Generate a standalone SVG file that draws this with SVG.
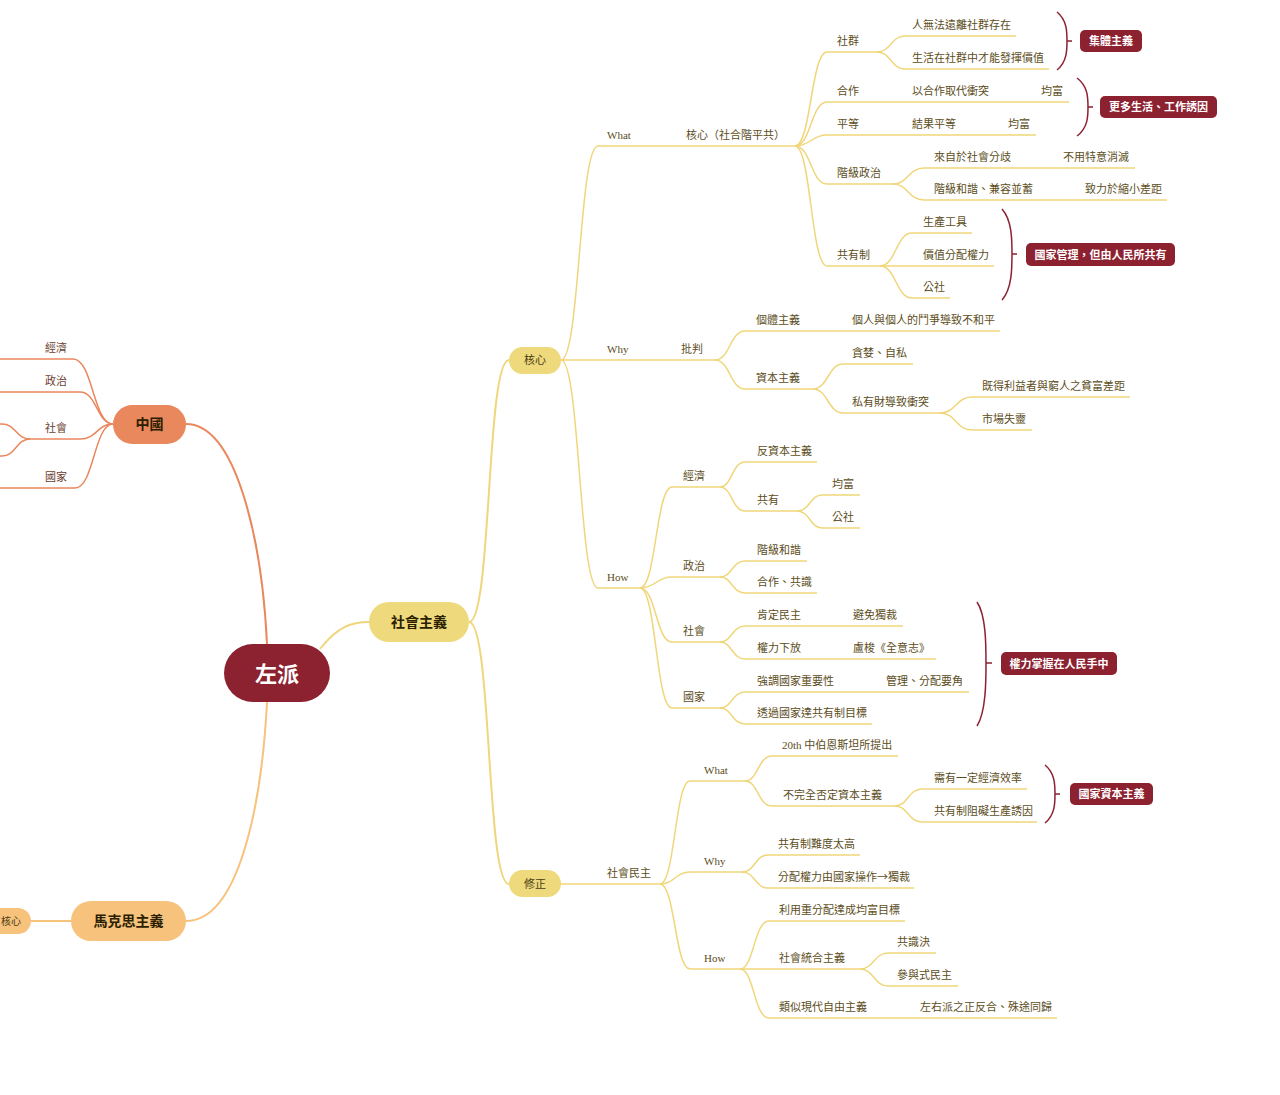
<svg xmlns="http://www.w3.org/2000/svg" width="1280" height="1095" viewBox="0 0 1280 1095">
<style>
.y{fill:none;stroke:#F0D67A;stroke-width:1.5}
.ym{fill:none;stroke:#F0D67A;stroke-width:2}
.o{fill:none;stroke:#E9875D;stroke-width:1.5}
.om{fill:none;stroke:#E9875D;stroke-width:2}
.lo{fill:none;stroke:#F6C27C;stroke-width:2}
.br{fill:none;stroke:#8C2130;stroke-width:1.5}
text{font-family:"Liberation Serif","Noto Sans CJK TC",serif}
.t{font-size:11px;fill:#5c4d22}
.to{font-size:11px;fill:#6b4030}
.tag rect{fill:#8C2130}
.tag text{font-size:11px;fill:#fff;font-weight:bold;text-anchor:middle}
.nt{font-size:14px;fill:#2a2000;text-anchor:middle;font-weight:bold}
.ns{font-size:11px;fill:#4a3d15;text-anchor:middle}
.cjk{font-family:"Noto Sans CJK TC",sans-serif}
</style>
<rect width="1280" height="1095" fill="#fff"/>
<g id="connectors">
<path class="om" d="M186,424 C236,424 262,540 267,644"/>
<path class="lo" d="M267,702 C262,800 240,921 186,921"/>
<path class="lo" d="M71,921 H31"/>
<path class="ym" d="M320,649 C338,626 352,622 369,622"/>
<path class="ym" d="M469,622 C492,622 486,360 509,360"/>
<path class="ym" d="M469,622 C492,622 486,884 509,884"/>
<path class="o" d="M113,424 C93,424 93,359 73,359 H-5"/>
<path class="o" d="M113,424 C97,424 97,392 80,392 H-5"/>
<path class="o" d="M113,424 C97,424 97,439 80,439 H30"/>
<path class="o" d="M30,439 C16,439 16,424 2,424 H-5"/>
<path class="o" d="M30,439 C16,439 16,456 2,456 H-5"/>
<path class="o" d="M113,424 C94,424 94,488 75,488 H-5"/>
<path class="y" d="M561,360 C580,360 579,146 598,146 H795"/>
<path class="y" d="M795,146 C811,146 811,52 827,52 H877"/>
<path class="y" d="M877,52 C891,52 891,36 905,36 H1016"/>
<path class="y" d="M877,52 C891,52 891,69 905,69 H1049"/>
<path class="y" d="M795,146 C811,146 811,102 827,102 H1069"/>
<path class="y" d="M795,146 C811,146 811,135 827,135 H1036"/>
<path class="y" d="M795,146 C811,146 811,184 827,184 H893"/>
<path class="y" d="M893,184 C908,184 908,168 924,168 H1135"/>
<path class="y" d="M893,184 C908,184 908,200 924,200 H1167"/>
<path class="y" d="M795,146 C811,146 811,266 827,266 H880"/>
<path class="y" d="M880,266 C896,266 896,233 912,233 H972"/>
<path class="y" d="M880,266 H994"/>
<path class="y" d="M880,266 C896,266 896,298 912,298 H950"/>
<path class="y" d="M561,360 H715"/>
<path class="y" d="M715,360 C730,360 730,331 745,331 H1000"/>
<path class="y" d="M715,360 C730,360 730,389 745,389 H813"/>
<path class="y" d="M813,389 C828,389 828,364 843,364 H913"/>
<path class="y" d="M813,389 C828,389 828,413 843,413 H940"/>
<path class="y" d="M940,413 C956,413 956,397 972,397 H1130"/>
<path class="y" d="M940,413 C956,413 956,430 972,430 H1032"/>
<path class="y" d="M561,360 C580,360 579,588 598,588 H640"/>
<path class="y" d="M640,588 C656,588 656,487 672,487 H720"/>
<path class="y" d="M720,487 C732,487 732,462 745,462 H817"/>
<path class="y" d="M720,487 C732,487 732,511 745,511 H797"/>
<path class="y" d="M797,511 C810,511 810,495 822,495 H860"/>
<path class="y" d="M797,511 C810,511 810,528 822,528 H860"/>
<path class="y" d="M640,588 C656,588 656,577 672,577 H720"/>
<path class="y" d="M720,577 C732,577 732,561 745,561 H807"/>
<path class="y" d="M720,577 C732,577 732,593 745,593 H817"/>
<path class="y" d="M640,588 C656,588 656,642 672,642 H720"/>
<path class="y" d="M720,642 C732,642 732,626 745,626 H903"/>
<path class="y" d="M720,642 C732,642 732,659 745,659 H936"/>
<path class="y" d="M640,588 C656,588 656,708 672,708 H720"/>
<path class="y" d="M720,708 C732,708 732,692 745,692 H969"/>
<path class="y" d="M720,708 C732,708 732,724 745,724 H872"/>
<path class="y" d="M561,884 H660"/>
<path class="y" d="M660,884 C675,884 675,781 690,781 H745"/>
<path class="y" d="M745,781 C758,781 758,756 772,756 H898"/>
<path class="y" d="M745,781 C758,781 758,806 772,806 H895"/>
<path class="y" d="M895,806 C908,806 908,789 922,789 H1027"/>
<path class="y" d="M895,806 C908,806 908,822 922,822 H1037"/>
<path class="y" d="M660,884 C675,884 675,872 690,872 H742"/>
<path class="y" d="M742,872 C755,872 755,855 768,855 H860"/>
<path class="y" d="M742,872 C755,872 755,888 768,888 H914"/>
<path class="y" d="M660,884 C675,884 675,969 690,969 H740"/>
<path class="y" d="M740,969 C754,969 754,921 769,921 H905"/>
<path class="y" d="M740,969 H860"/>
<path class="y" d="M860,969 C874,969 874,953 888,953 H936"/>
<path class="y" d="M860,969 C874,969 874,986 888,986 H958"/>
<path class="y" d="M740,969 C754,969 754,1018 769,1018 H1057"/>
<path class="br" d="M1057,12 C1067,20 1067,32 1067,41 C1067,50 1067,62 1057,70 M1067,41 H1072"/>
<path class="br" d="M1077,78 C1088,86 1088,98 1088,107 C1088,116 1088,128 1077,136 M1088,107 H1093"/>
<path class="br" d="M1002,209 C1012,220 1012,240 1012,254 C1012,268 1012,289 1002,300 M1012,254 H1017"/>
<path class="br" d="M977,602 C986,615 986,645 986,663 C986,681 986,712 977,726 M986,663 H992"/>
<path class="br" d="M1045,765 C1055,773 1055,785 1055,794 C1055,803 1055,815 1045,823 M1055,794 H1060"/>
</g>

<g id="root"><rect x="224" y="644" width="106" height="58" rx="29" fill="#8C2130"/><text x="277" y="682" font-size="22" font-weight="bold" fill="#fff" text-anchor="middle">左派</text></g>
<g id="china"><rect x="113" y="405" width="73" height="39" rx="19.5" fill="#E9875D"/><text class="nt" x="149.5" y="429">中國</text></g>
<g id="marx"><rect x="71" y="901" width="115" height="40" rx="20" fill="#F6C27C"/><text class="nt" x="128.5" y="926">馬克思主義</text></g>
<g id="marx-core"><rect x="-21" y="908" width="52" height="26" rx="13" fill="#F6C27C"/><text x="1" y="925" font-size="10" fill="#4a3d15">核心</text></g>
<g id="socialism"><rect x="369" y="602" width="100" height="40" rx="20" fill="#EEDA7D"/><text class="nt" x="419" y="627">社會主義</text></g>
<g id="core"><rect x="509" y="347" width="52" height="27" rx="13.5" fill="#EEDA7D"/><text class="ns" x="535" y="364">核心</text></g>
<g id="revision"><rect x="509" y="870" width="52" height="27" rx="13.5" fill="#EEDA7D"/><text class="ns" x="535" y="888">修正</text></g>

<g id="china-labels">
<g id="cn-econ"><text class="to" x="45" y="352">經濟</text></g>
<g id="cn-pol"><text class="to" x="45" y="385">政治</text></g>
<g id="cn-soc"><text class="to" x="45" y="432">社會</text></g>
<g id="cn-state"><text class="to" x="45" y="481">國家</text></g>
</g>

<g id="core-what">
<g id="w"><text class="t" x="607" y="139">What</text></g>
<g id="w-core"><text class="t" x="686" y="139">核心（社合階平共）</text></g>
<g id="w1"><text class="t" x="837" y="45">社群</text></g>
<g id="w1a"><text class="t" x="912" y="29">人無法遠離社群存在</text></g>
<g id="w1b"><text class="t" x="912" y="62">生活在社群中才能發揮價值</text></g>
<g id="w2"><text class="t" x="837" y="95">合作</text></g>
<g id="w2a"><text class="t" x="912" y="95">以合作取代衝突</text></g>
<g id="w2b"><text class="t" x="1041" y="95">均富</text></g>
<g id="w3"><text class="t" x="837" y="128">平等</text></g>
<g id="w3a"><text class="t" x="912" y="128">結果平等</text></g>
<g id="w3b"><text class="t" x="1008" y="128">均富</text></g>
<g id="w4"><text class="t" x="837" y="177">階級政治</text></g>
<g id="w4a"><text class="t" x="934" y="161">來自於社會分歧</text></g>
<g id="w4a1"><text class="t" x="1063" y="161">不用特意消滅</text></g>
<g id="w4b"><text class="t" x="934" y="193">階級和諧、兼容並蓄</text></g>
<g id="w4b1"><text class="t" x="1085" y="193">致力於縮小差距</text></g>
<g id="w5"><text class="t" x="837" y="259">共有制</text></g>
<g id="w5a"><text class="t" x="923" y="226">生產工具</text></g>
<g id="w5b"><text class="t" x="923" y="259">價值分配權力</text></g>
<g id="w5c"><text class="t" x="923" y="291">公社</text></g>
</g>

<g id="core-why">
<g id="y"><text class="t" x="607" y="353">Why</text></g>
<g id="y-crit"><text class="t" x="681" y="353">批判</text></g>
<g id="y1"><text class="t" x="756" y="324">個體主義</text></g>
<g id="y1a"><text class="t" x="852" y="324">個人與個人的鬥爭導致不和平</text></g>
<g id="y2"><text class="t" x="756" y="382">資本主義</text></g>
<g id="y2a"><text class="t" x="852" y="357">貪婪、自私</text></g>
<g id="y2b"><text class="t" x="852" y="406">私有財導致衝突</text></g>
<g id="y2b1"><text class="t" x="982" y="390">既得利益者與窮人之貧富差距</text></g>
<g id="y2b2"><text class="t" x="982" y="423">市場失靈</text></g>
</g>

<g id="core-how">
<g id="h"><text class="t" x="607" y="581">How</text></g>
<g id="h1"><text class="t" x="683" y="480">經濟</text></g>
<g id="h1a"><text class="t" x="757" y="455">反資本主義</text></g>
<g id="h1b"><text class="t" x="757" y="504">共有</text></g>
<g id="h1b1"><text class="t" x="832" y="488">均富</text></g>
<g id="h1b2"><text class="t" x="832" y="521">公社</text></g>
<g id="h2"><text class="t" x="683" y="570">政治</text></g>
<g id="h2a"><text class="t" x="757" y="554">階級和諧</text></g>
<g id="h2b"><text class="t" x="757" y="586">合作、共識</text></g>
<g id="h3"><text class="t" x="683" y="635">社會</text></g>
<g id="h3a"><text class="t" x="757" y="619">肯定民主</text></g>
<g id="h3a1"><text class="t" x="853" y="619">避免獨裁</text></g>
<g id="h3b"><text class="t" x="757" y="652">權力下放</text></g>
<g id="h3b1"><text class="t" x="853" y="652">盧梭《全意志》</text></g>
<g id="h4"><text class="t" x="683" y="701">國家</text></g>
<g id="h4a"><text class="t" x="757" y="685">強調國家重要性</text></g>
<g id="h4a1"><text class="t" x="886" y="685">管理、分配要角</text></g>
<g id="h4b"><text class="t" x="757" y="717">透過國家達共有制目標</text></g>
</g>

<g id="revision-labels">
<g id="r"><text class="t" x="607" y="877">社會民主</text></g>
<g id="rw"><text class="t" x="704" y="774">What</text></g>
<g id="rw1"><text class="t" x="782" y="749">20th 中伯恩斯坦所提出</text></g>
<g id="rw2"><text class="t" x="783" y="799">不完全否定資本主義</text></g>
<g id="rw2a"><text class="t" x="934" y="782">需有一定經濟效率</text></g>
<g id="rw2b"><text class="t" x="934" y="815">共有制阻礙生產誘因</text></g>
<g id="ry"><text class="t" x="704" y="865">Why</text></g>
<g id="ry1"><text class="t" x="778" y="848">共有制難度太高</text></g>
<g id="ry2"><text class="t" x="778" y="881">分配權力由國家操作<tspan class="cjk">→</tspan>獨裁</text></g>
<g id="rh"><text class="t" x="704" y="962">How</text></g>
<g id="rh1"><text class="t" x="779" y="914">利用重分配達成均富目標</text></g>
<g id="rh2"><text class="t" x="779" y="962">社會統合主義</text></g>
<g id="rh2a"><text class="t" x="897" y="946">共識決</text></g>
<g id="rh2b"><text class="t" x="897" y="979">參與式民主</text></g>
<g id="rh3"><text class="t" x="779" y="1011">類似現代自由主義</text></g>
<g id="rh3a"><text class="t" x="920" y="1011">左右派之正反合、殊途同歸</text></g>
</g>

<g id="tag-collectivism" class="tag"><rect x="1080" y="30" width="62" height="22" rx="5"/><text x="1111" y="45">集體主義</text></g>
<g id="tag-incentive" class="tag"><rect x="1100" y="96" width="117" height="22" rx="5"/><text x="1158.5" y="111">更多生活、工作誘因</text></g>
<g id="tag-state-own" class="tag"><rect x="1026" y="243" width="149" height="23" rx="5"/><text x="1100.5" y="258.5">國家管理，但由人民所共有</text></g>
<g id="tag-people" class="tag"><rect x="1001" y="652" width="116" height="23" rx="5"/><text x="1059" y="667.5">權力掌握在人民手中</text></g>
<g id="tag-statecap" class="tag"><rect x="1070" y="783" width="83" height="22" rx="5"/><text x="1111.5" y="798">國家資本主義</text></g>
</svg>
